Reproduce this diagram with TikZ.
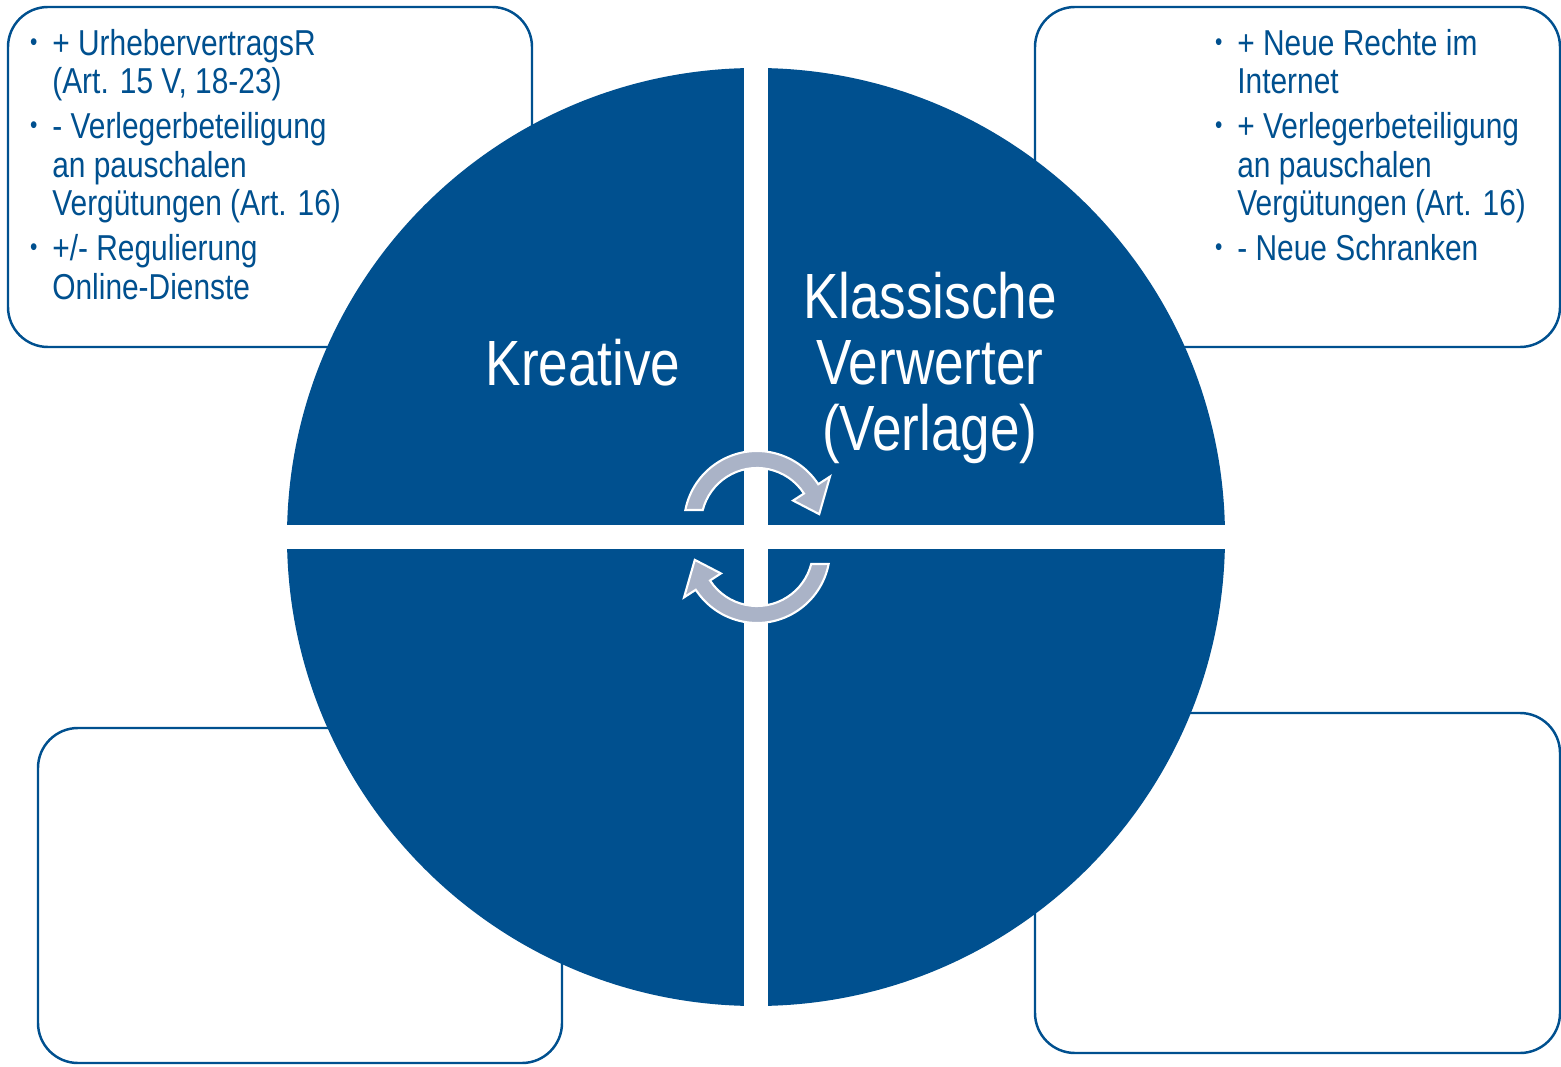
\documentclass[tikz,border=0pt]{standalone}
\usepackage{fontspec}
\setmainfont{Liberation Sans}[FakeStretch=0.83]
\definecolor{quadblue}{RGB}{0,80,143}
\definecolor{cyclegrey}{RGB}{170,179,199}
\newcommand{\itm}{\llap{\raisebox{0.15em}{\scalebox{0.7}{\textbullet}}\hspace{0.3cm}}}

\begin{document}
\begin{tikzpicture} [x=0.02cm, y=0.02cm,
                box_style/.style={draw=quadblue, line width=1.4pt, rounded corners=0.8cm, fill=white},
                list_style/.style={anchor=north west, inner sep=0pt, align=left, text=quadblue,
                  font=\fontsize{20.5}{21.9}\selectfont},
                big_style/.style={inner sep=0pt, text=white, align=center,
                  font=\fontsize{36.4}{37.6}\selectfont}]
                \tikzset{cycle arrow/.style={fill=cyclegrey, draw=white, line width=1.2pt}}
                \useasboundingbox (0,0) rectangle (1561,1066);
                % boxes behind the circle
                \draw [box_style] (8,719) rectangle (532,1059);
                \draw [box_style] (1035,719) rectangle (1560,1059);
                \draw [box_style] (38,3) rectangle (562,338);
                \draw [box_style] (1035,13) rectangle (1560,353);
                % four quarters
                \coordinate (c) at (756,529);
                \begin{scope}
                  \clip (c) circle [radius=469];
                  \fill [quadblue] (280,541) rectangle (744,1000);
                  \fill [quadblue] (768,541) rectangle (1230,1000);
                  \fill [quadblue] (280,60) rectangle (744,517);
                  \fill [quadblue] (768,60) rectangle (1230,517);
                \end{scope}
                % turning arrows
                \begin{scope}[shift={(757,542)}]
                  \filldraw [cycle arrow] (169:73) arc [start angle=169, end angle=33, radius=73]
                    -- (33:87) -- (9:63) -- (33:43) -- (33:56)
                    arc [start angle=33, end angle=165.5, radius=56] -- cycle;
                \end{scope}
                \begin{scope}[shift={(757,516)}, rotate=180]
                  \filldraw [cycle arrow] (169:73) arc [start angle=169, end angle=33, radius=73]
                    -- (33:87) -- (9:63) -- (33:43) -- (33:56)
                    arc [start angle=33, end angle=165.5, radius=56] -- cycle;
                \end{scope}
                \node [big_style, anchor=base] (kreative) at (583,680) {Kreative};
                \node [big_style, anchor=north] (verwerter) at (930,794) {Klassische\\ Verwerter\\ (Verlage)};
                \node [list_style] (left_list) at (52,1037) {\itm + UrhebervertragsR\\ (Art. 15 V, 18-23)\\[3.7pt]
                  \itm - Verlegerbeteiligung\\ an pauschalen\\ Vergütungen (Art. 16)\\[3.7pt]
                  \itm +/- Regulierung\\ Online-Dienste};
                \node [list_style] (right_list) at (1237,1037) {\itm + Neue Rechte im\\ Internet\\[3.7pt]
                  \itm + Verlegerbeteiligung\\ an pauschalen\\ Vergütungen (Art. 16)\\[3.7pt]
                  \itm - Neue Schranken};
            \end{tikzpicture}
\end{document}
